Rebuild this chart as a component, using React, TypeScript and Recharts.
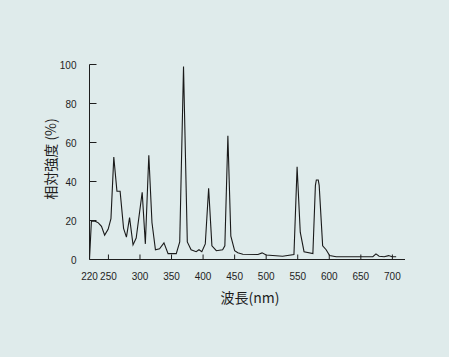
import { LineChart, Line, XAxis, YAxis } from "recharts";

// wavelength (nm) and relative intensity (%)
const wavelengths = [
    220, 223, 228, 234, 239, 244, 249.5, 254, 258.5, 263.5, 268.5, 274, 278.5, 283.5, 289, 294,
    303.5, 308.5, 314, 319, 324.5, 331, 338, 344.5, 357.5, 363, 369, 375, 381, 389, 393.5, 398,
    403.5, 408.8, 414, 421, 431, 434.5, 439.3, 444, 450, 455, 463, 487, 493.5, 500, 526, 544,
    549, 554, 560, 574, 578, 579.5, 582.5, 584, 589.5, 595, 600.5, 611, 669, 674, 679, 687, 694,
    699.5, 706,
];
const intensities = [
    0, 19.6, 19.8, 18.8, 17, 12.5, 15.5, 21, 52.5, 35, 35, 16, 11.5, 21.5, 7.5, 11,
    34.5, 8, 53.5, 19, 5, 5.5, 8.5, 3, 3, 9, 99, 9, 5, 4, 5, 4,
    8, 36.5, 7, 4.5, 5, 7, 63.5, 12, 4.5, 3.5, 2.7, 2.6, 3.4, 2.3, 1.7, 2.6,
    47.5, 14, 4, 3, 38, 40.8, 40.8, 38, 7, 5, 2, 1.4, 1.4, 2.9, 1.7, 1.4, 2,
    1.4, 1.4,
];

const xTicks = [220, 250, 300, 350, 400, 450, 500, 550, 600, 650, 700];
const yTicks = [0, 20, 40, 60, 80, 100];

const data = wavelengths.map((w, i) => ({ wl: w, value: intensities[i] }));

const tickFont = "'Liberation Sans', Arial, sans-serif";
const cjkFont = "'Noto Sans CJK JP', sans-serif";
const ink = "#1e1e1e";

function XTick(props: any) {
    const { x, y, payload } = props;
    return (
        <g>
            {payload.value !== 220 && (
                <line x1={x} x2={x} y1={y} y2={y - 5} stroke={ink} strokeWidth={1} />
            )}
            <text x={x} y={y + 20} textAnchor="middle" fontSize={10} fontFamily={tickFont} fill={ink}>
                {payload.value}
            </text>
        </g>
    );
}

function YTick(props: any) {
    const { x, y, payload } = props;
    return (
        <g>
            {payload.value !== 0 && (
                <line x1={x} x2={x + 7} y1={y} y2={y} stroke={ink} strokeWidth={1} />
            )}
            <text x={x - 13} y={y + 4} textAnchor="end" fontSize={10} fontFamily={tickFont} fill={ink}>
                {payload.value}
            </text>
        </g>
    );
}

export default function App() {
    return (
        <div style={{ position: "absolute", left: 0, top: 0, width: 449, height: 357, background: "#dfebeb" }}>
            <LineChart
                width={449}
                height={357}
                data={data}
                margin={{ top: 64.5, right: 44, bottom: 57.5, left: 0 }}
            >
                <XAxis
                    dataKey="wl"
                    type="number"
                    domain={[220, 720]}
                    ticks={xTicks}
                    interval={0}
                    height={40}
                    tickSize={0}
                    tickMargin={0}
                    tickLine={false}
                    tick={<XTick />}
                    axisLine={{ stroke: ink, strokeWidth: 1 }}
                />
                <YAxis
                    type="number"
                    domain={[0, 100]}
                    ticks={yTicks}
                    interval={0}
                    width={89.5}
                    tickSize={0}
                    tickMargin={0}
                    tickLine={false}
                    tick={<YTick />}
                    axisLine={{ stroke: ink, strokeWidth: 1 }}
                />
                <Line
                    type="linear"
                    dataKey="value"
                    stroke="#1a1a1a"
                    strokeWidth={1.1}
                    dot={false}
                    isAnimationActive={false}
                />
                <text
                    x={250}
                    y={303}
                    textAnchor="middle"
                    fontSize={14}
                    fontFamily={cjkFont}
                    fill={ink}
                >
                    波長(nm)
                </text>
                <text
                    x={55.5}
                    y={159}
                    textAnchor="middle"
                    fontSize={14}
                    fontFamily={cjkFont}
                    fill={ink}
                    transform="rotate(-90 55.5 159)"
                >
                    相対強度 (%)
                </text>
            </LineChart>
        </div>
    );
}
